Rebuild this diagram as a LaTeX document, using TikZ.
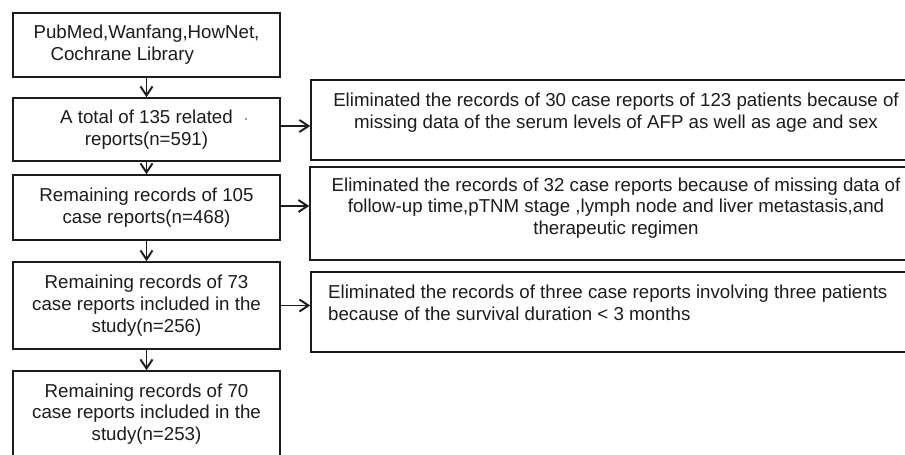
\documentclass[tikz,border=0pt]{standalone}
\usepackage{fontspec}
\setmainfont{Liberation Sans}
\usetikzlibrary{arrows.meta}
\definecolor{ink}{HTML}{1C1C1C}
\newcommand{\fs}{\fontsize{18.7}{21.7}\selectfont}
\tikzset{
  box/.style={draw=ink, line width=1.7pt, rectangle, inner sep=0pt, align=center, font=\fs, text=ink},
  rbox/.style={draw=ink, line width=1.7pt, rectangle, inner sep=0pt},
  txt/.style={inner sep=0pt, font=\fs, text=ink},
  arr/.style={draw=ink, line width=1.5pt, -{Straight Barb[length=9pt,width=12pt,line width=1.9pt]}}
}
\begin{document}
\begin{tikzpicture}[x=1pt,y=-1pt]
\useasboundingbox (0,0) rectangle (905,455);
\clip (0,0) rectangle (905,455);
\fill[white] (0,0) rectangle (905,455);
% left column
\node[box, align=left, minimum width=267pt, minimum height=64pt] (b1) at (146.5,45)
  {PubMed,Wanfang,HowNet,\\\hspace*{17pt}Cochrane Library};
\node[box, minimum width=267pt, minimum height=63pt] (b2) at (146.5,129.5)
  {A total of 135 related\\reports(n=591)};
\fill[gray] (246,119) circle (1.1);
\node[box, minimum width=267pt, minimum height=65pt] (b3) at (146.5,207.5)
  {Remaining records of 105\\case reports(n=468)};
\node[box, minimum width=267pt, minimum height=87pt] (b4) at (146.5,305.5)
  {Remaining records of 73\\case reports included in the\\study(n=256)};
\node[box, minimum width=267pt, minimum height=86pt] (b5) at (146.5,414)
  {Remaining records of 70\\case reports included in the\\study(n=253)};
% right column
\node[rbox, minimum width=610pt, minimum height=80pt] (r1) at (616,120) {};
\node[txt, align=center] (t1) at (616,112.5)
  {Eliminated the records of 30 case reports of 123 patients because of\\missing data of the serum levels of AFP as well as age and sex};
\node[rbox, minimum width=611pt, minimum height=93pt] (r2) at (615.5,213.5) {};
\node[txt, align=center] (t2) at (616,208)
  {Eliminated the records of 32 case reports because of missing data of\\follow-up time,pTNM stage ,lymph node and liver metastasis,and\\therapeutic regimen};
\node[rbox, minimum width=610pt, minimum height=80pt] (r3) at (616,312) {};
\node[txt, align=left, anchor=west] (t3) at (328,302.5)
  {Eliminated the records of three case reports involving three patients\\because of the survival duration < 3 months};
% connectors
\draw[arr] (b1.south) -- (b2.north);
\draw[arr] (b2.south) -- (b3.north);
\draw[arr] (b3.south) -- (b4.north);
\draw[arr] (b4.south) -- (b5.north);
\coordinate (h2) at ([yshift=3.5pt]b2.east);
\coordinate (h3) at ([yshift=1.5pt]b3.east);
\draw[arr] (h2) -- (h2 -| r1.west);
\draw[arr] (h3) -- (h3 -| r2.west);
\draw[arr] (b4.east) -- (b4.east -| r3.west);
\end{tikzpicture}
\end{document}
